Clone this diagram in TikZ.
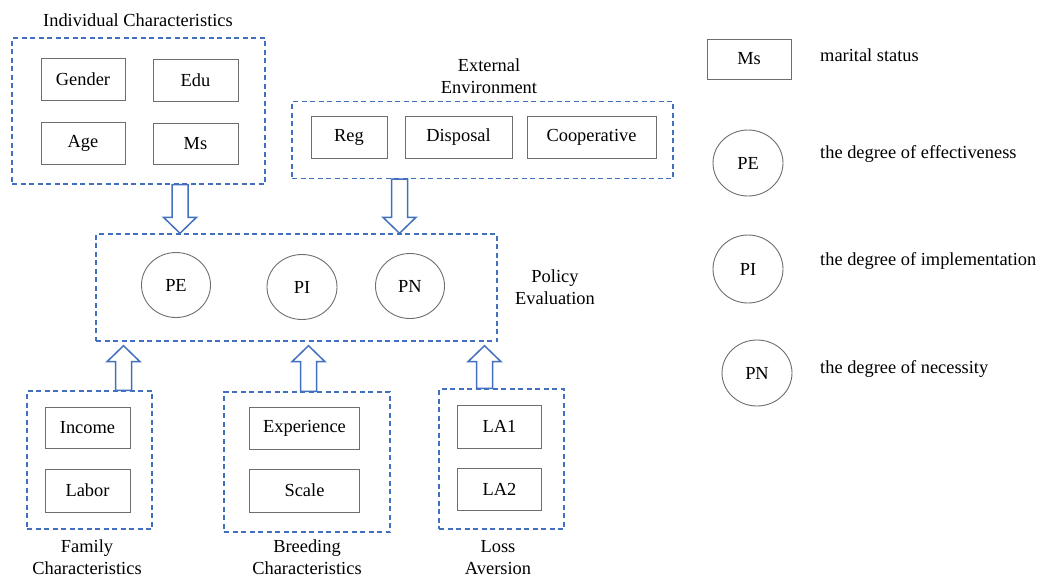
\documentclass[tikz,border=0pt]{standalone}
\usepackage{fontspec}
\setmainfont{Liberation Serif}
\usetikzlibrary{calc,shapes.geometric}
\definecolor{dblue}{RGB}{66,112,190}
\definecolor{aboxline}{RGB}{110,110,110}
\newcommand\blkarrow[3]{% #1 start, #2 tip, #3 = 1 for down, -1 for up
  \draw[barrow] ($(#1)+(-8,0)$) -- ($(#2)+(-8,-16*#3)$) -- ($(#2)+(-16.5,-16*#3)$) -- (#2)
    -- ($(#2)+(16.5,-16*#3)$) -- ($(#2)+(8,-16*#3)$) -- ($(#1)+(8,0)$) -- cycle;}
\begin{document}
\begin{tikzpicture}[x=1pt,y=-1pt,
  font=\fontsize{18.4}{22}\selectfont,
  dbox/.style={draw=dblue, line width=1.4pt, dash pattern=on 5pt off 3.5pt, inner sep=0pt},
  vbox/.style={draw=aboxline, line width=0.9pt, inner sep=0pt},
  vcirc/.style={draw=aboxline, line width=0.9pt, ellipse, inner sep=0pt, minimum width=69pt, minimum height=66pt},
  barrow/.style={draw=dblue, line width=1.5pt, fill=white, line join=miter},
  lbl/.style={align=center, inner sep=0pt},
  ltext/.style={anchor=west, inner sep=0pt}]
\useasboundingbox (0,0) rectangle (1038,579);
% Individual characteristics
\node[lbl] (ictitle) at (138,20) {Individual Characteristics};
\node[dbox, minimum width=253pt, minimum height=146pt] (ic) at (138.5,111) {};
\node[vbox, minimum width=84pt, minimum height=42pt] (gender) at (83,79) {Gender};
\node[vbox, minimum width=85pt, minimum height=42pt] (edu) at (195.5,80) {Edu};
\node[vbox, minimum width=84pt, minimum height=42pt] (age) at (83,143) {Age};
\node[vbox, minimum width=85pt, minimum height=41pt] (ms) at (195.5,144) {Ms};
% External environment
\node[lbl] (eetitle) at (489,76) {External\\Environment};
\node[dbox, minimum width=381pt, minimum height=77pt] (ee) at (482.5,140) {};
\node[vbox, minimum width=76pt, minimum height=42pt] (reg) at (349,137) {Reg};
\node[vbox, minimum width=107pt, minimum height=42pt] (disp) at (458.5,137) {Disposal};
\node[vbox, minimum width=129pt, minimum height=42pt] (coop) at (591.5,137) {Cooperative};
% Policy evaluation
\node[dbox, minimum width=401pt, minimum height=107pt] (pe) at (296.5,287.5) {};
\node[vcirc, minimum width=69pt, minimum height=65pt] (pec) at (176,285) {PE};
\node[vcirc, minimum width=70pt, minimum height=65pt] (pic) at (302,287) {PI};
\node[vcirc, minimum width=69pt, minimum height=65pt] (pnc) at (410,286) {PN};
\node[lbl] (petitle) at (555,287.5) {Policy\\Evaluation};
% Family
\node[dbox, minimum width=125pt, minimum height=138pt] (fam) at (89.5,460) {};
\node[vbox, minimum width=85pt, minimum height=41pt] (inc) at (87.5,427.5) {Income};
\node[vbox, minimum width=85pt, minimum height=43pt] (lab) at (87.5,490.5) {Labor};
\node[lbl] (famtitle) at (87,557.5) {Family\\Characteristics};
% Breeding
\node[dbox, minimum width=166pt, minimum height=140pt] (bre) at (307,462) {};
\node[vbox, minimum width=110pt, minimum height=42pt] (exp) at (304.5,428) {Experience};
\node[vbox, minimum width=110pt, minimum height=43pt] (sca) at (304.5,490.5) {Scale};
\node[lbl] (bretitle) at (307,557.5) {Breeding\\Characteristics};
% Loss aversion
\node[dbox, minimum width=125pt, minimum height=140pt] (los) at (501.5,459) {};
\node[vbox, minimum width=84pt, minimum height=43pt] (la1) at (499.5,426.5) {LA1};
\node[vbox, minimum width=84pt, minimum height=42pt] (la2) at (499.5,489) {LA2};
\node[lbl] (lostitle) at (498,557.5) {Loss\\Aversion};
% Block arrows
\coordinate (a1s) at (ic.south -| 180,0);
\coordinate (a1t) at (pe.north -| 180,0);
\blkarrow{a1s}{a1t}{1}
\coordinate (a2s) at (ee.south -| 399.5,0);
\coordinate (a2t) at (pe.north -| 399.5,0);
\blkarrow{a2s}{a2t}{1}
\coordinate (a3s) at (fam.north -| 123.5,0);
\coordinate (a3t) at ($(pe.south -| 123.5,0)+(0,4)$);
\blkarrow{a3s}{a3t}{-1}
\coordinate (a4s) at (bre.north -| 308.5,0);
\coordinate (a4t) at ($(pe.south -| 308.5,0)+(0,4)$);
\blkarrow{a4s}{a4t}{-1}
\coordinate (a5s) at (los.north -| 484.5,0);
\coordinate (a5t) at ($(pe.south -| 484.5,0)+(0,4)$);
\blkarrow{a5s}{a5t}{-1}
% Legend
\node[vbox, minimum width=84pt, minimum height=40pt] (lms) at (749,59) {Ms};
\node[ltext] (lmst) at (820,55) {marital status};
\node[vcirc, minimum width=70pt, minimum height=66pt] (lpe) at (748,163) {PE};
\node[ltext] (lpet) at (820,154) {the degree of effectiveness};
\node[vcirc, minimum width=70pt, minimum height=68pt] (lpi) at (748,269) {PI};
\node[ltext] (lpit) at (820,261) {the degree of implementation};
\node[vcirc, minimum width=70pt, minimum height=66pt] (lpn) at (757,373) {PN};
\node[ltext] (lpnt) at (820,369) {the degree of necessity};
\end{tikzpicture}
\end{document}
